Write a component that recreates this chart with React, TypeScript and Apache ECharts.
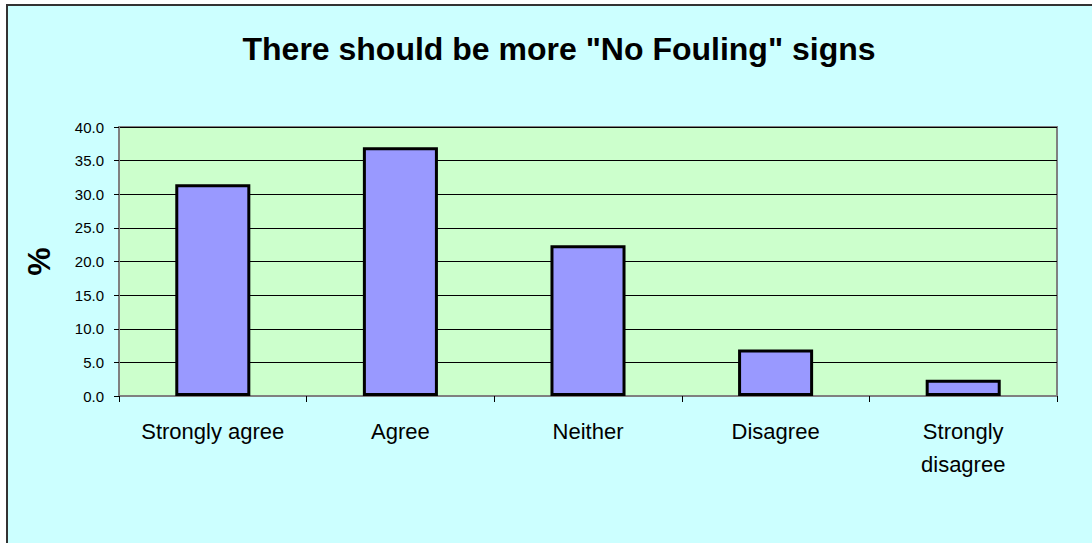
import React, { useEffect, useRef } from "react";
import * as echarts from "echarts";

const categories = ["Strongly agree", "Agree", "Neither", "Disagree", "Strongly\ndisagree"];
const percentValues = [31.5, 37.0, 22.4, 6.9, 2.4];
const titleText = 'There should be more "No Fouling" signs';
const yAxisName = "%";

export default function App() {
  const ref = useRef<HTMLDivElement>(null);
  useEffect(() => {
    if (!ref.current) return;
    const chart = echarts.init(ref.current, undefined, { renderer: "svg" });
    const font = "'Liberation Sans', Arial, sans-serif";
    chart.setOption({
      animation: false,
      backgroundColor: "transparent",
      title: {
        text: titleText,
        left: 554,
        top: 28,
        textAlign: "center",
        textStyle: { fontFamily: font, fontWeight: "bold", fontSize: 32, color: "#000" },
      },
      grid: {
        left: 119,
        right: 35,
        top: 127,
        bottom: 147,
        show: true,
        backgroundColor: "#CCFFCC",
        borderColor: "#808080",
        borderWidth: 2,
      },
      xAxis: {
        type: "category",
        data: categories,
        axisLine: { lineStyle: { color: "#808080", width: 2 } },
        axisTick: { show: true, alignWithLabel: false, length: 6, lineStyle: { color: "#000", width: 1 } },
        axisLabel: {
          interval: 0,
          margin: 19,
          fontFamily: font,
          fontSize: 22,
          lineHeight: 33,
          color: "#000",
        },
      },
      yAxis: {
        type: "value",
        min: 0,
        max: 40,
        interval: 5,
        name: yAxisName,
        nameLocation: "middle",
        nameRotate: 90,
        nameGap: 64,
        nameTextStyle: { fontFamily: font, fontWeight: "bold", fontSize: 32, color: "#000" },
        axisLine: { show: true, lineStyle: { color: "#808080", width: 2 } },
        axisTick: { show: true, length: 5, lineStyle: { color: "#000", width: 1 } },
        axisLabel: {
          margin: 15,
          fontFamily: font,
          fontSize: 15,
          color: "#000",
          formatter: (v: number) => v.toFixed(1),
        },
        splitLine: { show: true, lineStyle: { color: "#000", width: 1 } },
      },
      series: [
        {
          type: "bar",
          data: percentValues,
          barWidth: "40%",
          itemStyle: { color: "#9999FF", borderColor: "#000", borderWidth: 3 },
        },
      ],
    });
    return () => chart.dispose();
  }, []);

  return (
    <div style={{ position: "absolute", left: 0, top: 0, width: 1092, height: 543, overflow: "hidden", background: "#fff" }}>
      <div
        style={{
          position: "absolute",
          left: 6,
          top: 4,
          width: 1200,
          height: 700,
          background: "#CCFFFF",
          border: "2px solid #333",
        }}
      />
      <div ref={ref} style={{ position: "absolute", left: 0, top: 0, width: 1092, height: 543 }} />
    </div>
  );
}
